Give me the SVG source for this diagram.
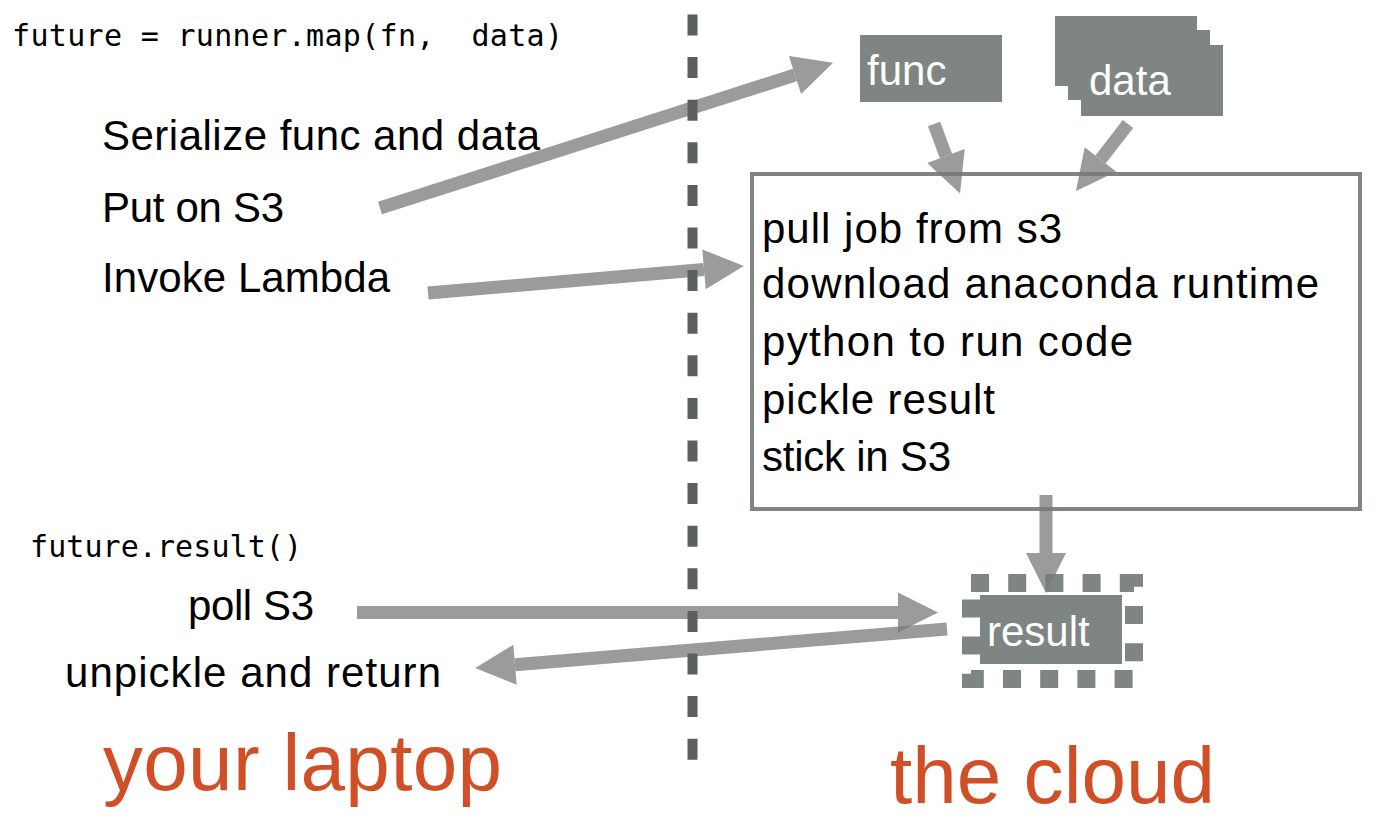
<svg xmlns="http://www.w3.org/2000/svg" width="1378" height="824" viewBox="0 0 1378 824">
  <style>
    .t { font-family: "Liberation Sans", Arial, sans-serif; font-size: 42px; fill: #000; }
    .mono { font-family: "DejaVu Sans Mono", "Liberation Mono", monospace; font-size: 30px; fill: #000; white-space: pre; }
    .big { font-family: "Liberation Sans", Arial, sans-serif; font-size: 80px; fill: #d14f26; }
    .wt { font-family: "Liberation Sans", Arial, sans-serif; font-size: 42px; fill: #fff; }
    .blk { fill: #7f8582; }
    .arrow { opacity: 0.75; }
    .shaft { stroke: #7a7a7a; stroke-width: 13; fill: none; marker-end: url(#head); }
  </style>
  <defs>
    <marker id="head" markerUnits="userSpaceOnUse" viewBox="0 -22 42 44" refX="0" refY="0" markerWidth="42" markerHeight="44" orient="auto" overflow="visible">
      <path d="M0,-20 L40,0 L0,20 Z" fill="#7a7a7a"/>
    </marker>
  </defs>
  <rect width="1378" height="824" fill="#fff"/>

  <g id="laptop-labels">
    <text class="mono" x="12" y="46" textLength="551">future = runner.map(fn,  data)</text>
    <text class="t" x="102" y="150" textLength="438">Serialize func and data</text>
    <text class="t" x="102" y="222" textLength="182">Put on S3</text>
    <text class="t" x="102" y="292" textLength="288">Invoke Lambda</text>
    <text class="mono" x="30" y="557" textLength="272">future.result()</text>
    <text class="t" x="188" y="620" textLength="126">poll S3</text>
    <text class="t" x="65" y="687" textLength="376">unpickle and return</text>
    <text class="big" x="103" y="790" textLength="399">your laptop</text>
  </g>

  <g id="func">
    <rect class="blk" x="860" y="35" width="142" height="67"/>
    <text class="wt" x="867" y="85">func</text>
  </g>

  <g id="data">
    <rect class="blk" x="1055" y="16" width="142" height="70"/>
    <rect class="blk" x="1068" y="30" width="142" height="70"/>
    <rect class="blk" x="1081" y="45" width="142" height="71"/>
    <text class="wt" x="1089" y="95">data</text>
  </g>

  <g id="lambda">
    <rect x="752" y="174" width="608" height="335" fill="none" stroke="#7f8582" stroke-width="4"/>
    <text class="t" x="762" y="243" textLength="300">pull job from s3</text>
    <text class="t" x="762" y="298" textLength="557">download anaconda runtime</text>
    <text class="t" x="762" y="356" textLength="371">python to run code</text>
    <text class="t" x="762" y="414" textLength="233">pickle result</text>
    <text class="t" x="762" y="471" textLength="189">stick in S3</text>
  </g>

  <g id="result">
    <rect x="971" y="583" width="163" height="96" fill="none" stroke="#7f8582" stroke-width="18" stroke-dasharray="18 19.2"/>
    <rect class="blk" x="980" y="595" width="142" height="69"/>
    <text class="wt" x="987" y="646">result</text>
  </g>

  <g id="cloud-label">
    <text class="big" x="890" y="803" textLength="325">the cloud</text>
  </g>

  <g id="connectors">
    <g class="arrow"><path class="shaft" d="M380,208 L795,75"/></g>
    <g class="arrow"><path class="shaft" d="M428,293 L704,269.4"/></g>
    <g class="arrow"><path class="shaft" d="M934,124 L946,156"/></g>
    <g class="arrow"><path class="shaft" d="M1128,124 L1100.5,159.4"/></g>
    <g class="arrow"><path class="shaft" d="M1046,495 L1046,553"/></g>
    <g class="arrow"><path class="shaft" d="M357,612.5 L898,612.5"/></g>
    <g class="arrow"><path class="shaft" d="M947,629 L515,664.7"/></g>
    <line id="divider" x1="692.5" y1="14.5" x2="692.5" y2="760" stroke="#5b605e" stroke-width="10" stroke-dasharray="21 21.6"/>
  </g>
</svg>
